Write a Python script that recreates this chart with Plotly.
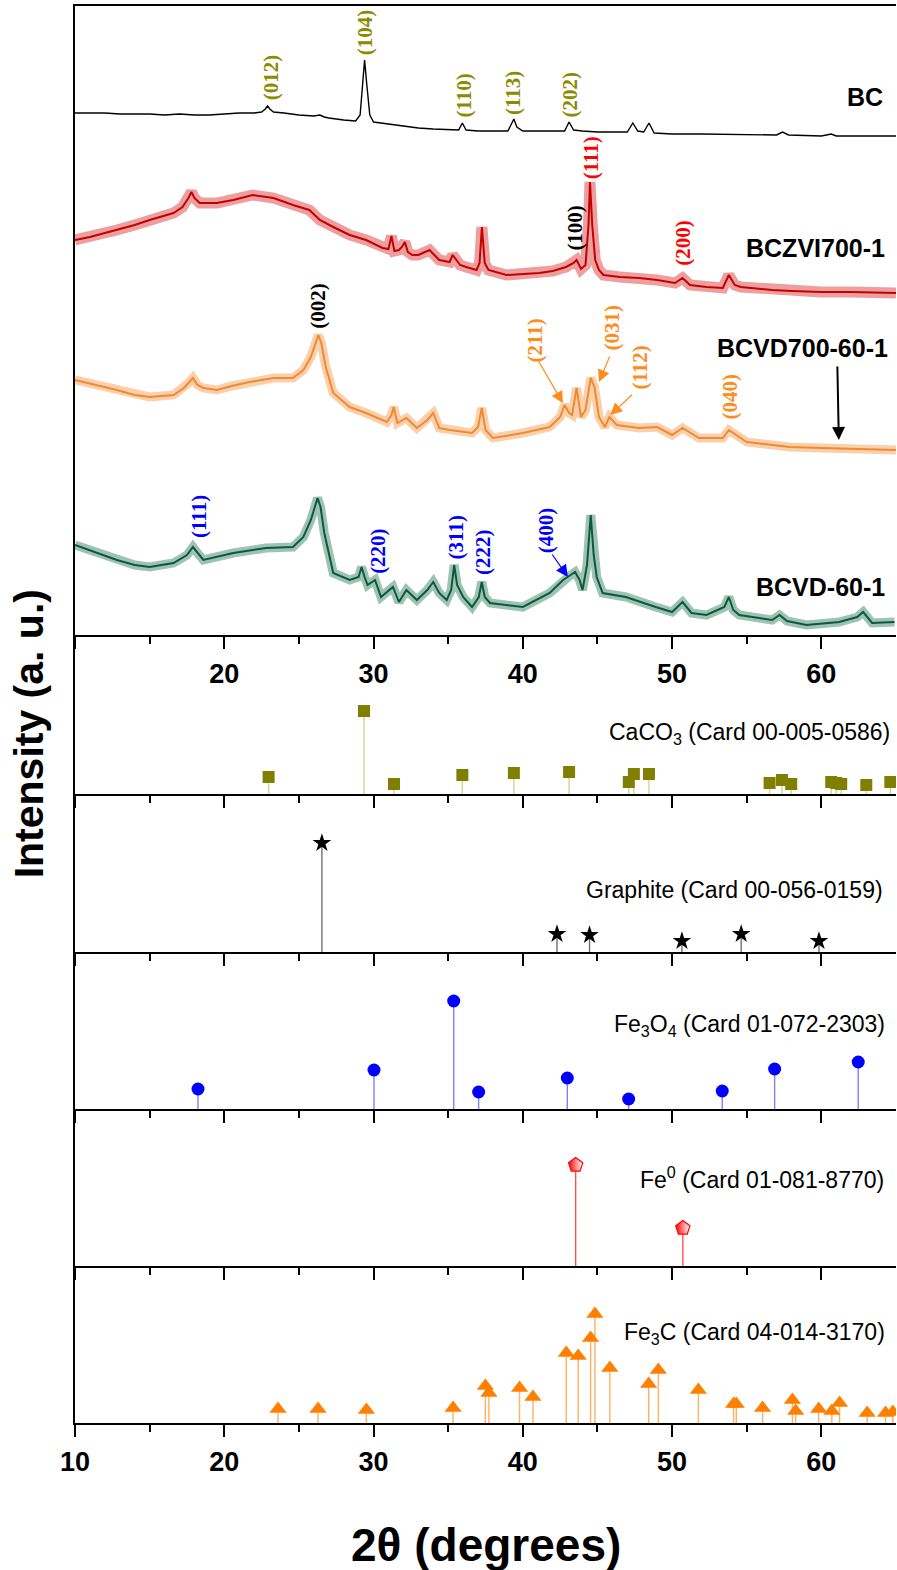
import plotly.graph_objects as go
from plotly.subplots import make_subplots

# ---------------- XRD patterns (main panel, relative intensity) ----------------
bc_x = [10, 11, 12, 13, 14, 15, 16, 17, 18, 19, 20, 21, 22, 22.5, 22.75, 22.9, 23.05, 23.3, 24, 25, 26, 26.4, 26.7, 27, 28, 28.8,
        29.1, 29.25, 29.4, 29.55, 29.75, 30, 31, 32, 33, 34, 35, 35.7, 35.95, 36.2, 37, 38, 39, 39.2, 39.4, 39.6, 40, 41, 42,
        42.8, 43.1, 43.4, 44, 45, 46, 47, 47.37, 47.7, 48.1, 48.45, 48.8, 50, 52, 55, 57, 57.4, 57.8, 60, 60.66, 61, 63, 65]
bc_y = [522, 522, 522, 521, 521, 521, 520, 521, 520, 520, 521, 522, 522, 523, 526, 529, 526, 523, 522, 520, 519, 520, 518, 517,
        515, 514, 520, 550, 575, 550, 520, 513, 511, 509, 507, 506, 505, 505, 512, 505, 504, 504, 504, 510, 516, 508, 504, 504,
        504, 504, 513, 505, 504, 503, 503, 503, 512, 504, 503, 512, 502, 501, 501, 500, 500, 503, 500, 499, 501, 499, 499, 499]

zvi_x = [10, 11, 12, 12.8, 14, 15, 16, 16.6, 17.2, 17.6, 17.8, 18.0, 18.35, 19.5, 20.6, 21.9, 23.3, 24.6, 25.7, 26.4, 27.3,
         28.4, 29.5, 30.6, 31.0, 31.2, 31.4, 31.7, 31.9, 32.1, 32.3, 32.6, 33.0, 33.75, 34.4, 35.1, 35.3, 35.8, 36.2, 36.9,
         37.1, 37.26, 37.45, 37.7, 38.9, 40, 41.1, 42, 42.9, 43.4, 43.6, 43.9, 44.2, 44.4, 44.5, 44.65, 44.85, 45.1, 45.4,
         46.5, 47.8, 49, 50.2, 50.7, 51.2, 52.3, 53.4, 53.8, 54.2, 54.6, 56.7, 58, 60, 62, 65]
zvi_y = [395, 398, 402, 405, 410, 415, 419, 422, 428, 437, 443, 437, 432, 432, 435, 440, 437, 430, 425, 415, 408, 400, 395,
         387, 386, 399, 384, 385, 388, 393, 383, 380, 380, 385, 375, 373, 380, 370, 368, 365, 372, 408, 372, 365, 360, 361,
         362, 364, 368, 372, 375, 366, 370, 410, 453, 410, 375, 365, 360, 358, 357, 355, 352, 357, 350, 348, 347, 360, 350,
         348, 345, 344, 343, 343, 342]

vd700_x = [10, 11.5, 12.8, 14, 15, 16.6, 17.3, 17.6, 17.9, 18.2, 18.6, 19.5, 20.5, 21.7, 23.3, 24.6, 25.3, 25.8, 26.1, 26.3,
           26.5, 26.8, 27.3, 28.4, 29.5, 30.9, 31.2, 31.35, 31.6, 32.2, 32.9, 33.6, 34.0, 34.4, 35.1, 36.6, 37.0, 37.25, 37.5,
           38, 40, 41.8, 42.5, 42.8, 43.1, 43.3, 43.6, 43.9, 44.2, 44.55, 44.8, 45.1, 45.5, 45.8, 46.3, 47.8, 49.0, 50, 50.7,
           51.8, 53.4, 53.8, 55, 57.9, 60, 62, 65]
vd700_y = [255, 250, 245, 240, 238, 240, 247, 252, 257, 250, 247, 245, 249, 253, 257, 257, 265, 278, 292, 300, 292, 268, 242,
           228, 222, 213, 220, 228, 212, 217, 207, 215, 222, 207, 205, 202, 208, 227, 205, 197, 202, 208, 218, 230, 222, 220,
           247, 218, 225, 257, 248, 218, 208, 218, 210, 207, 208, 200, 207, 197, 197, 205, 193, 188, 187, 186, 185]

vd_x = [10, 11.5, 12.8, 14, 15, 16.6, 17.5, 17.9, 18.2, 18.6, 20.6, 22.8, 24.6, 25.3, 25.8, 26.05, 26.25, 26.45, 26.7, 27.3,
        28.4, 29.0, 29.2, 29.4, 29.6, 30.1, 30.5, 31.3, 31.7, 32.2, 32.9, 33.6, 34, 34.4, 34.9, 35.2, 35.4, 35.6, 36, 36.6,
        37.05, 37.25, 37.45, 37.8, 40, 41.8, 42.7, 43.2, 43.5, 43.8, 44.0, 44.3, 44.55, 44.75, 44.95, 45.35, 46.9, 48.9, 50,
        50.7, 51.3, 52.3, 53.5, 53.8, 54.1, 54.5, 56.7, 57.2, 57.7, 59, 61.2, 62.4, 62.8, 63.4, 64.9]
vd_y = [90, 82, 75, 70, 68, 72, 80, 88, 82, 75, 82, 87, 88, 98, 115, 128, 137, 128, 102, 62, 55, 58, 68, 58, 50, 55, 38, 48,
        33, 45, 35, 45, 53, 42, 35, 45, 70, 50, 38, 28, 38, 53, 38, 32, 28, 42, 55, 60, 63, 55, 45, 70, 120, 80, 58, 42, 38,
        28, 23, 33, 22, 20, 28, 38, 25, 20, 15, 20, 14, 10, 13, 18, 23, 12, 13]

# ---------------- Reference cards (stick patterns) ----------------
caco3_x = [22.97, 29.36, 31.37, 35.95, 39.4, 43.1, 47.1, 47.44, 48.45, 56.53, 57.36, 57.98, 60.66, 61.0, 61.33, 63.01, 64.62]
caco3_y = [17, 83, 10, 19, 21, 22, 12, 20, 20, 11, 14, 10, 12, 11, 10, 9, 12]

graph_x = [26.54, 42.29, 44.47, 50.66, 54.63, 59.84]
graph_y = [109, 18, 17, 11, 18, 11]

fe3o4_x = [18.24, 30.03, 35.37, 37.04, 42.98, 47.09, 53.36, 56.87, 62.47]
fe3o4_y = [20, 39, 108, 17, 31, 10, 18, 40, 47]

fe0_x = [43.54, 50.72]
fe0_y = [101, 38]

fe3c_x = [23.6, 26.28, 29.52, 35.33, 37.49, 37.73, 39.78, 40.68, 42.91, 43.71, 44.54, 44.83, 45.83, 48.43, 49.08, 51.76,
          54.12, 54.3, 56.06, 58.06, 58.28, 59.82, 60.7, 61.22, 63.07, 64.3, 64.79]
fe3c_y = [14, 14, 13, 15, 37, 30, 35, 26, 70, 67, 85, 109, 55, 39, 53, 33, 19, 19, 15, 23, 12, 14, 12, 20, 10, 10, 11]

tick_vals = [10, 20, 30, 40, 50, 60]
minor_vals = [15, 25, 35, 45, 55]

# ---------------- figure ----------------
row_h = [629, 159, 158, 157, 157, 157]
fig = make_subplots(rows=6, cols=1, vertical_spacing=0, row_heights=row_h, shared_xaxes=False)

def xrd(x, y, col, under, uw, lw, row=1):
    if under:
        fig.add_trace(go.Scatter(x=x, y=y, mode="lines", line=dict(color=under, width=uw), hoverinfo="skip",
                                 showlegend=False), row=row, col=1)
    fig.add_trace(go.Scatter(x=x, y=y, mode="lines", line=dict(color=col, width=lw), showlegend=False), row=row, col=1)

xrd(bc_x, bc_y, "#000000", None, 0, 1.4)
xrd(zvi_x, zvi_y, "#c40000", "rgba(215,40,40,0.45)", 11, 2)
xrd(vd700_x, vd700_y, "#f08a30", "rgba(245,150,70,0.45)", 9, 2)
xrd(vd_x, vd_y, "#0b5a3a", "rgba(40,120,90,0.45)", 9, 2)

def sticks(x, y, row, stem_col, marker):
    sx, sy = [], []
    for a, b in zip(x, y):
        sx += [a, a, None]
        sy += [0, b, None]
    fig.add_trace(go.Scatter(x=sx, y=sy, mode="lines", line=dict(color=stem_col, width=1.4), showlegend=False,
                             hoverinfo="skip"), row=row, col=1)
    fig.add_trace(go.Scatter(x=x, y=y, mode="markers", marker=marker, showlegend=False), row=row, col=1)

sticks(caco3_x, caco3_y, 2, "#d2d296", dict(symbol="square", size=12, color="#808000"))
sticks(graph_x, graph_y, 3, "#707070", dict(symbol="star", size=14, color="#000000"))
sticks(fe3o4_x, fe3o4_y, 4, "#8080ff", dict(symbol="circle", size=13, color="#0000ff"))
sticks(fe0_x, fe0_y, 5, "#ff5050", dict(symbol="pentagon", size=15, color="#ff0000",
                                         line=dict(color="#ff0000", width=1.2),
                                         gradient=dict(type="horizontal", color="#ffffff")))
sticks(fe3c_x, fe3c_y, 6, "#ffb060", dict(symbol="triangle-up", size=15, color="#ff8000"))

tickfont = dict(family="Liberation Sans, Arial", size=27, color="black", weight="bold")
for r in range(1, 7):
    xa = dict(range=[10, 65], showline=True, linewidth=2, linecolor="black", ticks="outside", ticklen=12, tickwidth=2,
              tickcolor="black", tickvals=tick_vals, showgrid=False, zeroline=False,
              minor=dict(tickvals=minor_vals, ticks="outside", ticklen=7, tickwidth=2, tickcolor="black"),
              showticklabels=(r in (1, 6)), tickfont=tickfont, ticklabelstandoff=2)
    if r == 1:
        xa["ticktext"] = [""] + [str(v) for v in tick_vals[1:]]
        xa["mirror"] = True
    fig.update_xaxes(row=r, col=1, **xa)
    fig.update_yaxes(row=r, col=1, range=[0, row_h[r - 1]], showline=True, linewidth=2, linecolor="black",
                     ticks="", showticklabels=False, showgrid=False, zeroline=False)

ann = []
serif = "Liberation Serif, Times New Roman"
def peak(txt, x, y, col):
    ann.append(dict(text="<b>" + txt + "</b>", x=x, y=y, xref="x", yref="y", showarrow=False, textangle=-90,
                    font=dict(family=serif, size=21, color=col), xanchor="center", yanchor="middle"))

olive = "#8b8b00"
orange = "#ff8c1a"
peak("(012)", 23.15, 558, olive)
peak("(104)", 29.45, 603, olive)
peak("(110)", 36.03, 539, olive)
peak("(113)", 39.34, 542, olive)
peak("(202)", 43.13, 540, olive)
peak("(111)", 44.59, 477, "#ff0000")
peak("(100)", 43.47, 407, "#000000")
peak("(200)", 50.72, 392, "#ff0000")
peak("(002)", 26.26, 329, "#000000")
peak("(211)", 40.79, 294, orange)
peak("(031)", 46.0, 308, orange)
peak("(112)", 47.82, 267, orange)
peak("(040)", 53.85, 238, orange)
peak("(111)", 18.31, 118, "#0000ff")
peak("(220)", 30.29, 84, "#0000ff")
peak("(311)", 35.55, 98, "#0000ff")
peak("(222)", 37.33, 83, "#0000ff")
peak("(400)", 41.57, 105, "#0000ff")

def arrow(x0, y0, x1, y1, col, w, size):
    ann.append(dict(text="", x=x1, y=y1, ax=x0, ay=y0, xref="x", yref="y", axref="x", ayref="y", showarrow=True,
                    arrowhead=2, arrowsize=size, arrowwidth=w, arrowcolor=col))

arrow(41.01, 275, 42.69, 231.7, orange, 1.2, 2)
arrow(45.86, 280, 45.1, 253, orange, 1.2, 2)
arrow(47.42, 241.7, 45.86, 220, orange, 1.2, 2)
arrow(41.9, 82, 43.02, 58, "#0000ff", 1.2, 2)
arrow(61.07, 270, 61.17, 195, "#000000", 2, 1.3)

sans = "Liberation Sans, Arial"
def sample(txt, x, y):
    ann.append(dict(text="<b>" + txt + "</b>", x=x, y=y, xref="x", yref="y", showarrow=False, xanchor="right",
                    yanchor="middle", font=dict(family=sans, size=25, color="black")))

sample("BC", 64.23, 538)
sample("BCZVI700-1", 64.37, 387)
sample("BCVD700-60-1", 64.57, 287)
sample("BCVD-60-1", 64.37, 48)

def card(txt, x, y, r):
    ann.append(dict(text=txt, x=x, y=y, xref="x%d" % r, yref="y%d" % r, showarrow=False, xanchor="right",
                    yanchor="middle", font=dict(family=sans, size=23, color="black")))

card("CaCO<sub>3</sub> (Card 00-005-0586)", 64.70, 61, 2)
card("Graphite (Card 00-056-0159)", 64.23, 62, 3)
card("Fe<sub>3</sub>O<sub>4</sub> (Card 01-072-2303)", 64.43, 84, 4)
card("Fe<sup>0</sup> (Card 01-081-8770)", 64.30, 88, 5)
card("Fe<sub>3</sub>C (Card 04-014-3170)", 64.37, 90, 6)

ann.append(dict(text="<b>Intensity (a. u.)</b>", x=-0.056, y=0.486, xref="paper", yref="paper", showarrow=False,
                textangle=-90, font=dict(family=sans, size=41, color="black"), xanchor="center", yanchor="middle"))
ann.append(dict(text="<b>2θ (degrees)</b>", x=0.5006, y=-0.0861, xref="paper", yref="paper", showarrow=False,
                font=dict(family=sans, size=46, color="black"), xanchor="center", yanchor="middle"))

fig.update_layout(width=897, height=1570, margin=dict(l=75, r=1, t=6, b=147), plot_bgcolor="white",
                  paper_bgcolor="white", annotations=ann, showlegend=False)

fig.write_html("out.html")
